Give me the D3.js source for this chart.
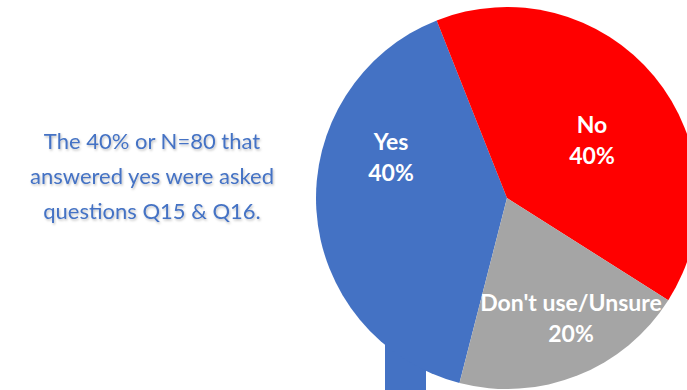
<!DOCTYPE html>
<html>
<head>
<meta charset="utf-8">
<script src="https://cdn.jsdelivr.net/npm/d3@7"></script>
<style>
  html, body { margin: 0; padding: 0; background: #fff; }
  svg { display: block; }
</style>
</head>
<body>
<svg id="chart" width="687" height="390"></svg>
<script>
// Survey answers
const categories = ["Yes", "No", "Don't use/Unsure"];
const values = [40, 40, 20];
const valueLabels = ["40%", "40%", "20%"];
const colors = ["#4472C4", "#FF0000", "#A5A5A5"];

// Note beside the pie
const noteLines = [
  "The 40% or N=80 that",
  "answered yes were asked",
  "questions Q15 & Q16."
];

const W = 687, H = 390;
const cx = 507, cy = 198, radius = 191;
// Yes slice begins at 194.4° (clockwise from 12 o'clock)
const startDeg = 194.4;

// Label anchors (relative to pie centre) for each slice
const labelOffsets = [[-116, -48], [85, -65], [64, 113]];

const svg = d3.select("#chart");

const defs = svg.append("defs");
const shadow = defs.append("filter").attr("id", "soft-shadow")
  .attr("x", "-10%").attr("y", "-20%").attr("width", "120%").attr("height", "150%");
shadow.append("feDropShadow")
  .attr("dx", 1).attr("dy", 1.5).attr("stdDeviation", 1.2)
  .attr("flood-color", "#000").attr("flood-opacity", 0.25);

// Connector tab under the Yes slice
svg.append("rect")
  .attr("x", 385).attr("y", 330).attr("width", 41).attr("height", H - 330)
  .attr("fill", colors[0]);

const pie = d3.pie().sort(null).value(d => d)
  .startAngle(startDeg * Math.PI / 180)
  .endAngle(startDeg * Math.PI / 180 + 2 * Math.PI);
const arc = d3.arc().innerRadius(0).outerRadius(radius);

const g = svg.append("g").attr("transform", `translate(${cx},${cy})`);
const arcs = pie(values);

g.selectAll("path.slice").data(arcs).join("path")
  .attr("class", "slice")
  .attr("d", arc)
  .attr("fill", (d, i) => colors[i]);

const labels = g.selectAll("text.lbl").data(arcs).join("text")
  .attr("class", "lbl")
  .attr("text-anchor", "middle")
  .attr("font-family", "Lato, 'Open Sans', sans-serif")
  .attr("font-weight", 700)
  .attr("font-size", 23)
  .attr("fill", "#fff")
  .attr("transform", (d, i) => `translate(${labelOffsets[i][0]},${labelOffsets[i][1]})`);
labels.append("tspan").attr("x", 0).attr("y", 0).text((d, i) => categories[i]);
labels.append("tspan").attr("x", 0).attr("y", 31).text((d, i) => valueLabels[i]);

// Side note
const note = svg.append("text")
  .attr("text-anchor", "middle")
  .attr("font-family", "Lato, 'Open Sans', sans-serif")
  .attr("font-size", 22)
  .attr("fill", "#4472C4")
  .attr("filter", "url(#soft-shadow)");
note.selectAll("tspan").data(noteLines).join("tspan")
  .attr("x", 152)
  .attr("y", (d, i) => 149 + i * 35)
  .text(d => d);
</script>
</body>
</html>
